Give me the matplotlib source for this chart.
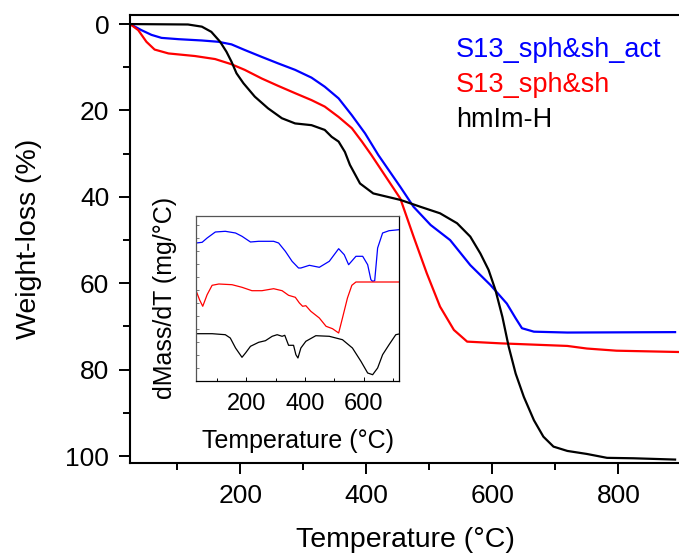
import matplotlib
matplotlib.use("Agg")
import matplotlib.pyplot as plt
from matplotlib.ticker import MultipleLocator, NullFormatter

plt.rcParams['font.family'] = ['Liberation Sans', 'DejaVu Sans']

# main TGA curves: temperature (C) and weight loss (%)
t_act = [25, 43, 59, 75, 102, 139, 165, 186, 207, 234, 260, 287, 313, 334, 356, 377, 398, 419,
         454, 475, 502, 533, 565, 597, 623, 637, 647, 666, 719, 890]
w_act = [0, 1.4, 2.5, 3.2, 3.5, 3.8, 4.1, 4.7, 6.0, 7.6, 9.1, 10.6, 12.4, 14.5, 17.2, 21.1,
         25.3, 30.3, 37.7, 42.3, 46.5, 50.0, 55.8, 60.4, 64.7, 68.1, 70.4, 71.2, 71.4, 71.3]

t_sh = [25, 38, 51, 64, 86, 128, 160, 186, 207, 234, 260, 287, 313, 334, 356, 377, 393, 408,
        454, 475, 496, 517, 539, 560, 613, 719, 750, 797, 895]
w_sh = [0, 1.4, 4.1, 5.9, 6.8, 7.4, 8.1, 9.3, 10.6, 12.6, 14.3, 16.0, 17.6, 19.1, 21.5, 24.1,
        27.2, 30.3, 40.4, 49.2, 57.7, 65.4, 70.8, 73.5, 73.9, 74.5, 75.1, 75.6, 75.9]

t_hmim = [25, 117, 139, 154, 168, 178, 186, 194, 205, 223, 244, 266, 287, 313, 334, 345, 356,
          366, 374, 390, 411, 454, 486, 517, 544, 565, 581, 594, 605, 616, 626, 637, 650, 666,
          681, 697, 719, 750, 782, 824, 890]
w_hmim = [0, 0.1, 0.6, 1.8, 4.1, 6.4, 8.7, 11.4, 13.7, 16.8, 19.5, 21.8, 23.0, 23.4, 24.5,
          26.1, 27.2, 29.6, 32.6, 36.9, 39.2, 40.7, 42.3, 43.8, 46.1, 49.2, 53.1, 56.9, 61.6,
          67.8, 74.7, 80.9, 86.3, 91.7, 95.5, 97.8, 98.8, 99.5, 100.4, 100.5, 100.8]

# inset DTG curves (arbitrary units)
ti_act = [29, 49, 66, 94, 128, 163, 185, 214, 242, 293, 310, 333, 356, 378, 386, 415, 449, 483,
          515, 534, 549, 574, 597, 614, 625, 631, 638, 648, 665, 687, 721]
d_act = [137.7, 138.4, 142.7, 148.7, 149.4, 147.7, 144.4, 138.7, 139.4, 139.4, 137.7, 129.4,
         119.4, 112.7, 112.7, 115.4, 113.4, 119.4, 132.0, 126.0, 116.0, 124.4, 124.4, 116.0,
         101.0, 99.4, 100.0, 132.7, 147.7, 150.0, 151.0]

ti_sh = [29, 40, 51, 66, 83, 106, 151, 185, 219, 253, 293, 322, 344, 367, 381, 392, 403, 420,
         449, 472, 494, 515, 528, 545, 560, 574, 721]
d_sh = [89.4, 81.0, 74.4, 86.0, 95.4, 96.7, 96.0, 93.4, 90.0, 90.0, 92.0, 90.0, 85.4, 83.4,
        77.7, 74.4, 75.0, 69.4, 62.7, 54.4, 52.0, 47.7, 62.7, 82.7, 95.4, 98.7, 98.7]

ti_hmim = [29, 83, 128, 145, 163, 185, 197, 214, 242, 265, 288, 305, 322, 331, 344, 361, 369,
           376, 386, 403, 437, 483, 528, 562, 591, 614, 631, 648, 665, 687, 710, 721]
d_hmim = [47.0, 47.0, 46.0, 42.7, 32.7, 23.4, 27.7, 34.4, 38.4, 40.0, 44.4, 46.0, 44.4, 45.4,
          35.4, 35.4, 26.0, 22.7, 32.7, 39.4, 45.0, 44.4, 41.0, 32.7, 19.4, 7.7, 6.0, 12.7,
          26.0, 36.0, 46.0, 46.7]

names = ['S13_sph&sh_act', 'S13_sph&sh', 'hmIm-H']
colors = ['#0000ff', '#ff0000', '#000000']

fig = plt.figure(figsize=(6.79, 5.53), dpi=100)
ax = fig.add_axes([0.1915, 0.1627, 0.812, 0.8102])

ax.plot(t_act, w_act, color=colors[0], lw=1.6)
ax.plot(t_sh, w_sh, color=colors[1], lw=1.6)
ax.plot(t_hmim, w_hmim, color=colors[2], lw=1.6)

ax.set_xlim(25, 900)
ax.set_ylim(101.6, -2.1)
ax.xaxis.set_major_locator(MultipleLocator(200))
ax.xaxis.set_minor_locator(MultipleLocator(100))
ax.yaxis.set_major_locator(MultipleLocator(20))
ax.yaxis.set_minor_locator(MultipleLocator(10))
ax.tick_params(which='major', direction='out', length=8, width=1.4, labelsize=19, pad=7)
ax.tick_params(which='minor', direction='out', length=5, width=1.4)
for s in ax.spines.values():
    s.set_linewidth(1.5)
ax.spines['right'].set_visible(False)
ax.set_xlabel('Temperature (°C)', fontsize=20.5, labelpad=14)
ax.set_ylabel('Weight-loss (%)', fontsize=20.5, labelpad=17)

# legend as coloured text
for i, (n, c) in enumerate(zip(names, colors)):
    fig.text(456 / 679, 1 - (50 + 35 * i) / 553, n, color=c, fontsize=19.5,
             ha='left', va='center')

# inset
axi = fig.add_axes([196 / 679, (553 - 380.7) / 553, 203.3 / 679, 164.7 / 553])
axi.plot(ti_act, d_act, color=colors[0], lw=0.9)
axi.plot(ti_sh, d_sh, color=colors[1], lw=0.9)
axi.plot(ti_hmim, d_hmim, color=colors[2], lw=0.9)
axi.set_xlim(28, 722)
axi.set_ylim(0, 164.7)
axi.xaxis.set_major_locator(MultipleLocator(200))
axi.xaxis.set_minor_locator(MultipleLocator(100))
axi.yaxis.set_major_locator(MultipleLocator(13))
axi.yaxis.set_major_formatter(NullFormatter())
axi.tick_params(axis='x', which='major', direction='in', length=3, width=0.7,
                labelsize=17, pad=9)
axi.tick_params(axis='x', which='minor', direction='in', length=2.5, width=0.7)
axi.tick_params(axis='y', which='major', direction='in', length=2, width=0.6, colors='#666666')
for k, s in axi.spines.items():
    s.set_linewidth(0.9)
    s.set_color('#555555' if k in ('top', 'left') else '#000000')
axi.set_xlabel('Temperature (°C)', fontsize=18, labelpad=10)
axi.set_ylabel('dMass/dT (mg/°C)', fontsize=18, labelpad=10)

fig.savefig('out.png', dpi=100)
